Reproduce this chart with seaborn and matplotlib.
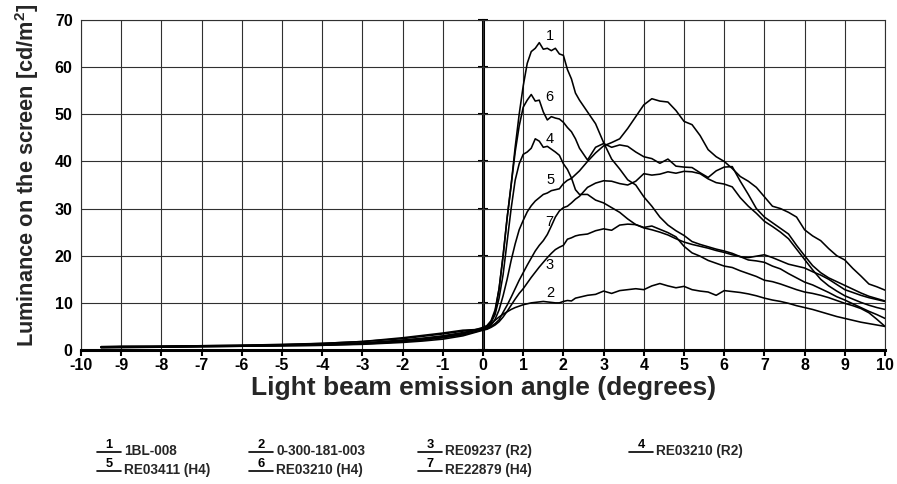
import numpy as np
import pandas as pd
import matplotlib
matplotlib.use("Agg")
import matplotlib.pyplot as plt
import seaborn as sns
from matplotlib.legend_handler import HandlerBase
from matplotlib.lines import Line2D
from matplotlib.text import Text

# x grid of the measurement (degrees)
angle_neg = [-9.5, -9, -8, -7, -6, -5, -4, -3, -2.5, -2, -1.5, -1, -0.5]
angle_pos = np.round(np.r_[np.arange(0, 2.45, 0.1), np.arange(2.6, 10.01, 0.2)], 1).tolist()
angle = angle_neg + angle_pos

# luminance [cd/m2]
c1 = [0.6, 0.6, 0.7, 0.8, 0.9, 1.0, 1.2, 1.5, 1.8, 2.1, 2.5, 3.0, 3.7,
      4.5, 5.0, 6.0, 8.0, 13, 20, 28, 35, 43, 50, 56, 60.8, 63.3, 64.0, 65.2,
      63.8, 64.0, 63.5, 64.0, 62.8, 62.5, 59.5, 57.5, 54.5, 53.0,
      50.5, 48.0, 44.0, 40.5, 38.4, 36.1, 35.0, 32.5,
      30.5, 28.2, 26.5, 25.3, 24.3, 23.0, 22.4, 21.9, 21.4, 21.0,
      20.5, 19.8, 19.1, 18.9, 18.6, 17.8, 17.2, 16.2, 15.3, 14.4,
      13.8, 13.0, 12.2, 11.3, 10.6, 9.8, 9.0, 8.2, 7.5, 6.7]
c2 = [0.7, 0.7, 0.8, 0.9, 1.0, 1.1, 1.4, 1.8, 2.1, 2.4, 2.9, 3.4, 4.0,
      4.5, 4.9, 5.5, 6.3, 7.0, 7.6, 8.1, 8.6, 9.0, 9.3, 9.6, 9.8, 10.0, 10.1, 10.2,
      10.3, 10.2, 10.1, 10.0, 10.0, 10.3, 10.5, 10.4, 11.0, 11.2,
      11.6, 11.8, 12.5, 12.0, 12.6, 12.8, 13.0, 12.8,
      13.6, 14.1, 13.6, 13.2, 13.5, 12.8, 12.5, 12.3, 11.6, 12.6,
      12.4, 12.2, 11.9, 11.5, 11.0, 10.6, 10.3, 9.9, 9.4, 9.0,
      8.6, 8.1, 7.6, 7.1, 6.7, 6.3, 5.9, 5.6, 5.3, 5.0]
c3 = [0.5, 0.6, 0.6, 0.7, 0.8, 0.9, 1.0, 1.2, 1.4, 1.6, 1.9, 2.3, 3.0,
      4.2, 4.4, 4.8, 5.3, 6.0, 7.0, 8.2, 9.5, 10.8, 12.0, 13.0, 14.2, 15.4, 16.5, 17.6,
      18.6, 19.6, 20.5, 21.3, 21.8, 22.2, 23.5, 23.8, 24.2, 24.4,
      24.6, 25.3, 25.7, 25.4, 26.5, 26.7, 26.6, 26.0,
      26.3, 25.6, 24.9, 24.0, 22.0, 20.6, 19.9, 19.0, 18.4, 17.8,
      17.5, 16.8, 16.2, 15.6, 14.8, 14.5, 14.0, 13.4, 12.8, 12.3,
      12.0, 11.6, 11.1, 10.5, 9.9, 9.4, 8.8, 7.9, 6.5, 5.0]
c4 = [0.6, 0.6, 0.7, 0.8, 0.9, 1.0, 1.1, 1.4, 1.6, 1.9, 2.2, 2.7, 3.4,
      4.6, 5.0, 5.8, 7.5, 11, 16, 23, 30, 36, 39.5, 41.5, 42.0, 42.8, 44.8, 44.3,
      43.0, 43.2, 42.6, 42.0, 41.3, 39.5, 38.3, 36.5, 34.0, 33.0,
      33.0, 31.8, 31.2, 30.2, 29.2, 27.8, 26.6, 25.9,
      25.5, 25.0, 24.4, 23.6, 22.9, 22.4, 22.0, 21.6, 21.1, 20.7,
      20.2, 19.8, 19.6, 19.9, 20.2, 19.6, 18.9, 18.2, 17.8, 17.4,
      16.6, 15.9, 15.0, 13.9, 12.8, 12.2, 11.6, 11.1, 10.7, 10.3]
c5 = [0.7, 0.8, 0.8, 0.9, 1.0, 1.2, 1.4, 1.8, 2.2, 2.6, 3.1, 3.6, 4.2,
      4.4, 4.7, 5.3, 6.5, 8.5, 11.5, 15, 19, 22.5, 25.5, 27.5, 29.3, 30.6, 31.6, 32.3,
      33.0, 33.3, 33.8, 34.0, 34.2, 35.3, 36.0, 36.4, 37.2, 38.0,
      40.0, 41.8, 43.3, 44.0, 44.8, 47.0, 49.5, 52.0,
      53.3, 52.8, 52.6, 50.8, 48.5, 47.8, 45.5, 42.5, 41.0, 40.0,
      38.5, 36.8, 35.8, 34.5, 32.5, 30.5, 30.0, 29.2, 28.2, 25.5,
      24.2, 23.2, 21.5, 20.0, 19.1, 17.3, 15.7, 14.0, 13.4, 12.7]
c6 = [0.6, 0.7, 0.7, 0.8, 0.9, 1.0, 1.2, 1.4, 1.7, 2.0, 2.4, 2.9, 3.5,
      4.8, 5.2, 6.2, 8.5, 13, 20, 28, 35, 42, 47.5, 51.5, 53.0, 54.2, 52.8, 53.0,
      50.5, 48.8, 49.5, 49.2, 49.0, 48.3, 47.2, 46.3, 44.8, 42.8,
      40.3, 43.0, 43.8, 43.0, 43.5, 43.2, 42.0, 41.0,
      40.6, 39.6, 40.5, 39.0, 38.8, 38.7, 37.6, 36.6, 38.0, 38.8,
      38.9, 35.8, 33.0, 30.0, 28.2, 27.0, 25.8, 24.6, 22.2, 20.0,
      17.9, 16.4, 15.3, 14.5, 13.7, 12.9, 12.1, 11.4, 10.9, 10.4]
c7 = [0.5, 0.5, 0.6, 0.7, 0.8, 0.9, 1.0, 1.3, 1.5, 1.8, 2.1, 2.6, 3.2,
      4.3, 4.5, 5.0, 5.6, 6.4, 8.0, 9.5, 11.2, 13.0, 14.8, 16.4, 18.0, 19.5, 21.0, 22.2,
      23.2, 24.5, 26.3, 28.2, 29.5, 30.2, 30.5, 31.2, 32.0, 32.6,
      34.5, 35.4, 35.9, 35.8, 35.3, 35.0, 35.8, 37.4,
      37.1, 37.3, 37.8, 37.5, 37.9, 37.8, 37.4, 36.3, 35.5, 35.2,
      34.6, 32.3, 30.5, 29.0, 27.3, 26.2, 25.0, 23.6, 21.4, 19.2,
      17.0, 15.0, 13.6, 12.5, 11.5, 10.8, 10.1, 9.5, 9.0, 8.6]

curve_ids = ['1', '2', '3', '4', '5', '6', '7']
names = ['1BL-008', '0-300-181-003', 'RE09237 (R2)', 'RE03210 (R2)',
         'RE03411 (H4)', 'RE03210 (H4)', 'RE22879 (H4)']
series = [c1, c2, c3, c4, c5, c6, c7]

df = pd.concat([pd.DataFrame({'angle': angle, 'lum': v, 'curve': k})
                for k, v in zip(curve_ids, series)], ignore_index=True)

sns.set_theme(style='white')
plt.rcParams['font.family'] = ['Liberation Sans', 'DejaVu Sans']
plt.rcParams['axes.unicode_minus'] = False
plt.rcParams['mathtext.fontset'] = 'custom'
plt.rcParams['mathtext.rm'] = 'Liberation Sans'
plt.rcParams['mathtext.bf'] = 'Liberation Sans:bold'

fig = plt.figure(figsize=(8.97, 4.84), dpi=100)
ax = fig.add_axes([81 / 897, 1 - 350 / 484, (885 - 81) / 897, (350 - 20) / 484])

sns.lineplot(data=df, x='angle', y='lum', units='curve', estimator=None,
             color='black', lw=1.15, ax=ax, legend=False)

ax.set_xlim(-10, 10)
ax.set_ylim(0, 70)
ax.set_xticks(range(-10, 11))
ax.set_yticks(range(0, 71, 10))
ax.grid(True, color='#303030', lw=0.8)
ax.set_axisbelow(True)
for s in ['top', 'left', 'right']:
    ax.spines[s].set_color('#303030')
    ax.spines[s].set_linewidth(0.8)
ax.spines['bottom'].set_color('black')
ax.spines['bottom'].set_linewidth(2.2)
ax.tick_params(axis='x', direction='out', length=4, width=1.5, bottom=True,
               pad=1.5, labelsize=11.5, colors='black')
ax.tick_params(axis='y', length=0, pad=6, labelsize=11.5, colors='black')
for t in ax.get_xticklabels() + ax.get_yticklabels():
    t.set_fontweight('bold')
ax.set_xlabel('')
ax.set_ylabel('')

# vertical axis through 0 degrees
sec = ax.secondary_yaxis(0.5)
sec.set_yticks(range(0, 71, 10))
sec.tick_params(direction='inout', length=7, width=1.5, labelright=False, colors='black')
sec.spines['right'].set_linewidth(2.2)
sec.spines['right'].set_color('black')

# curve numbers
label_pos = {'1': (1.66, 66.7), '6': (1.66, 53.6), '4': (1.66, 44.8), '5': (1.68, 36.1),
             '7': (1.66, 27.2), '3': (1.66, 18.0), '2': (1.68, 12.0)}
for k, (lx, ly) in label_pos.items():
    ax.text(lx, ly, k, ha='center', va='center', fontsize=10.5, color='black')

fig.text(484 / 897, 1 - 388 / 484, 'Light beam emission angle (degrees)',
         ha='center', va='center', fontsize=19, fontweight='bold')
fig.text(27 / 897, 1 - 175 / 484, r'Luminance on the screen [cd/m$^{\mathbf{2}}$]',
         ha='center', va='center', rotation=90, fontsize=15.7, fontweight='bold')


class NumberLine(HandlerBase):
    def __init__(self, num):
        super().__init__()
        self.num = num

    def create_artists(self, legend, orig_handle, xdescent, ydescent,
                       width, height, fontsize, trans):
        y = height * 0.3 - ydescent
        line = Line2D([-xdescent, -xdescent + width], [y, y], color='black',
                      lw=1.2, transform=trans)
        txt = Text(-xdescent + width / 2, y + 1, self.num, ha='center',
                   va='bottom', fontsize=fontsize * 0.95, fontweight='bold',
                   color='black', transform=trans)
        return [line, txt]


columns = [[0, 4], [1, 5], [2, 6], [3]]
col_x = [97, 249, 418, 629]
for idx, cx in zip(columns, col_x):
    handles = [Line2D([], [], color='black') for _ in idx]
    hmap = {h: NumberLine(curve_ids[i]) for h, i in zip(handles, idx)}
    leg = fig.legend(handles, [names[i] for i in idx], handler_map=hmap,
                     loc='upper left', bbox_to_anchor=(cx / 897, 1 - 444 / 484),
                     frameon=False, borderpad=0, borderaxespad=0,
                     handlelength=1.75, handletextpad=0.25, labelspacing=0.35,
                     prop={'family': ['Liberation Sans'], 'weight': 'bold', 'size': 9.8})

fig.savefig('out.png', dpi=100, facecolor='white')
